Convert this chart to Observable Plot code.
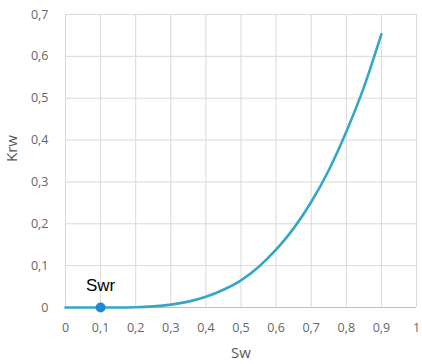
<!DOCTYPE html>
<html>
<head>
<meta charset="utf-8">
<script src="https://cdn.jsdelivr.net/npm/d3@7"></script>
<script src="https://cdn.jsdelivr.net/npm/@observablehq/plot@0.6"></script>
<style>
  html, body { margin: 0; padding: 0; background: #fff; }
</style>
</head>
<body>
<div id="chart"></div>
<script>
const sw  = [0, 0.1, 0.15, 0.2, 0.25, 0.3, 0.35, 0.4, 0.45, 0.5, 0.55, 0.6, 0.65, 0.7, 0.75, 0.8, 0.85, 0.9];
const krw = [0, 0, 0.0001, 0.0007, 0.0027, 0.0068, 0.014, 0.0256, 0.0425, 0.065, 0.097, 0.138, 0.189, 0.252, 0.328, 0.42, 0.526, 0.653];
const xTicks = [0, 0.1, 0.2, 0.3, 0.4, 0.5, 0.6, 0.7, 0.8, 0.9, 1];
const yTicks = [0, 0.1, 0.2, 0.3, 0.4, 0.5, 0.6, 0.7];
const swrPoint = [{sw: 0.1, krw: 0, label: "Swr"}];
const xTitle = "Sw";
const yTitle = "Krw";

const curve = sw.map((s, i) => ({sw: s, krw: krw[i]}));
const fmt = d => String(d).replace(".", ",");

const chart = Plot.plot({
  width: 422,
  height: 364,
  marginLeft: 65,
  marginRight: 6,
  marginTop: 14,
  marginBottom: 57,
  style: {fontFamily: "'Open Sans', sans-serif", fontSize: "12px", color: "#666", background: "#fff"},
  x: {domain: [0, 1]},
  y: {domain: [0, 0.7]},
  marks: [
    Plot.gridX(xTicks, {stroke: "#d9d9d9", strokeOpacity: 1, strokeWidth: 1}),
    Plot.gridY(yTicks, {stroke: "#d9d9d9", strokeOpacity: 1, strokeWidth: 1}),
    Plot.ruleY([0], {stroke: "#bfbfbf"}),
    Plot.axisX(xTicks, {tickSize: 0, tickPadding: 16, tickFormat: fmt, fill: "#666", label: null, fontSize: 12.5}),
    Plot.axisY(yTicks, {tickSize: 0, tickPadding: 17, tickFormat: fmt, fill: "#666", label: null, fontSize: 12.5}),
    Plot.text([xTitle], {frameAnchor: "bottom", dy: 46, text: d => d, fill: "#595959", fontSize: 15, lineAnchor: "middle"}),
    Plot.text([yTitle], {frameAnchor: "left", dx: -53, dy: 1, text: d => d, rotate: -90, fill: "#595959", fontSize: 15, lineAnchor: "middle"}),
    Plot.line(curve, {x: "sw", y: "krw", stroke: "#36a6c6", strokeWidth: 2.6, curve: "monotone-x"}),
    Plot.dot(swrPoint, {x: "sw", y: "krw", r: 5, fill: "#1f8bd6", stroke: "none"}),
    Plot.text(swrPoint, {x: "sw", y: "krw", text: "label", dy: -22, fill: "#000", fontSize: 17, fontFamily: "'Liberation Sans', Arial, sans-serif"})
  ]
});
document.getElementById("chart").appendChild(chart);
</script>
</body>
</html>
